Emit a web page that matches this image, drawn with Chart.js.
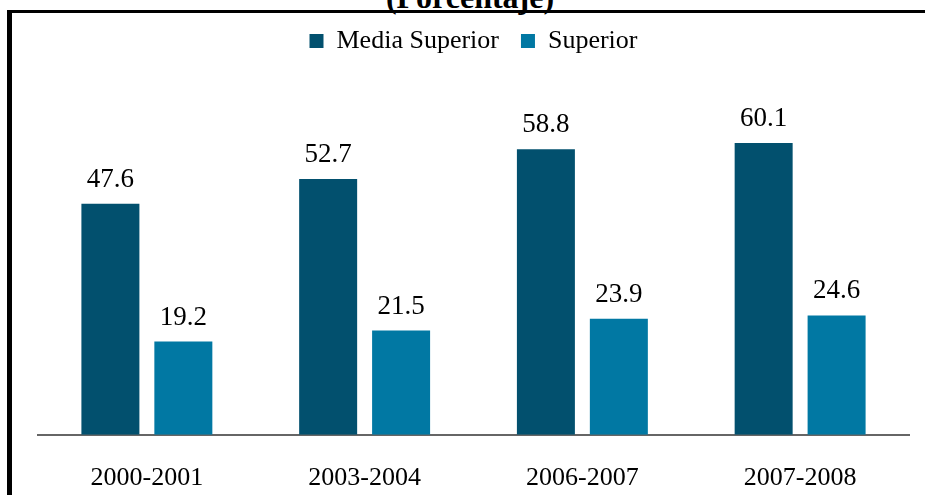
<!DOCTYPE html>
<html>
<head>
<meta charset="utf-8">
<script src="https://cdn.jsdelivr.net/npm/chart.js@4"></script>
<style>
  html, body { margin: 0; padding: 0; background: #fff; overflow: hidden; }
  #marco { position: absolute; left: 7px; top: 10px; width: 930px; height: 500px;
           border-left: 5px solid #000; border-top: 3px solid #000; }
  #titulo { position: absolute; left: 0; width: 940px; top: -21px; text-align: center;
            font: bold 32px "Liberation Serif", serif; color: #000; }
  #lienzo { position: absolute; left: 0; top: 0; }
</style>
</head>
<body>
<div id="marco"></div>
<div id="titulo">(Porcentaje)</div>
<canvas id="lienzo" width="925" height="495"></canvas>
<script>
var ciclos = ['2000-2001', '2003-2004', '2006-2007', '2007-2008'];
var mediaSuperior = [47.6, 52.7, 58.8, 60.1];
var superior = [19.2, 21.5, 23.9, 24.6];

var fuente = '"Liberation Serif", serif';

// etiquetas de valor encima de cada barra
var etiquetasValor = {
  id: 'etiquetasValor',
  afterDatasetsDraw: function(chart) {
    var ctx = chart.ctx;
    ctx.save();
    ctx.font = '27px ' + fuente;
    ctx.fillStyle = '#000';
    ctx.textAlign = 'center';
    ctx.textBaseline = 'middle';
    chart.data.datasets.forEach(function(ds, i) {
      chart.getDatasetMeta(i).data.forEach(function(barra, j) {
        ctx.fillText(ds.data[j].toFixed(1), barra.x, barra.y - 24);
      });
    });
    ctx.restore();
  }
};

// deja espacio bajo la leyenda
var espacioLeyenda = {
  id: 'espacioLeyenda',
  beforeInit: function(chart) {
    var fit = chart.legend.fit;
    chart.legend.fit = function() {
      fit.call(this);
      this.height += 31;
    };
  }
};

new Chart(document.getElementById('lienzo').getContext('2d'), {
  type: 'bar',
  data: {
    labels: ciclos,
    datasets: [
      { label: 'Media Superior', data: mediaSuperior, backgroundColor: '#02506E' },
      { label: 'Superior', data: superior, backgroundColor: '#0178A3' }
    ]
  },
  options: {
    responsive: false,
    animation: false,
    layout: { padding: { top: 6, left: 38, right: 16, bottom: -19 } },
    datasets: { bar: { categoryPercentage: 0.67, barPercentage: 0.795 } },
    plugins: {
      tooltip: { enabled: false },
      legend: {
        labels: {
          boxWidth: 14, boxHeight: 14, padding: 22,
          color: '#000', font: { family: fuente, size: 26 }
        }
      }
    },
    scales: {
      x: {
        grid: { display: false },
        border: { display: true, color: '#666', width: 2 },
        ticks: { color: '#000', padding: 20, font: { family: fuente, size: 26 } }
      },
      y: { display: false, min: 0, max: 70 }
    }
  },
  plugins: [espacioLeyenda, etiquetasValor]
});
</script>
</body>
</html>
